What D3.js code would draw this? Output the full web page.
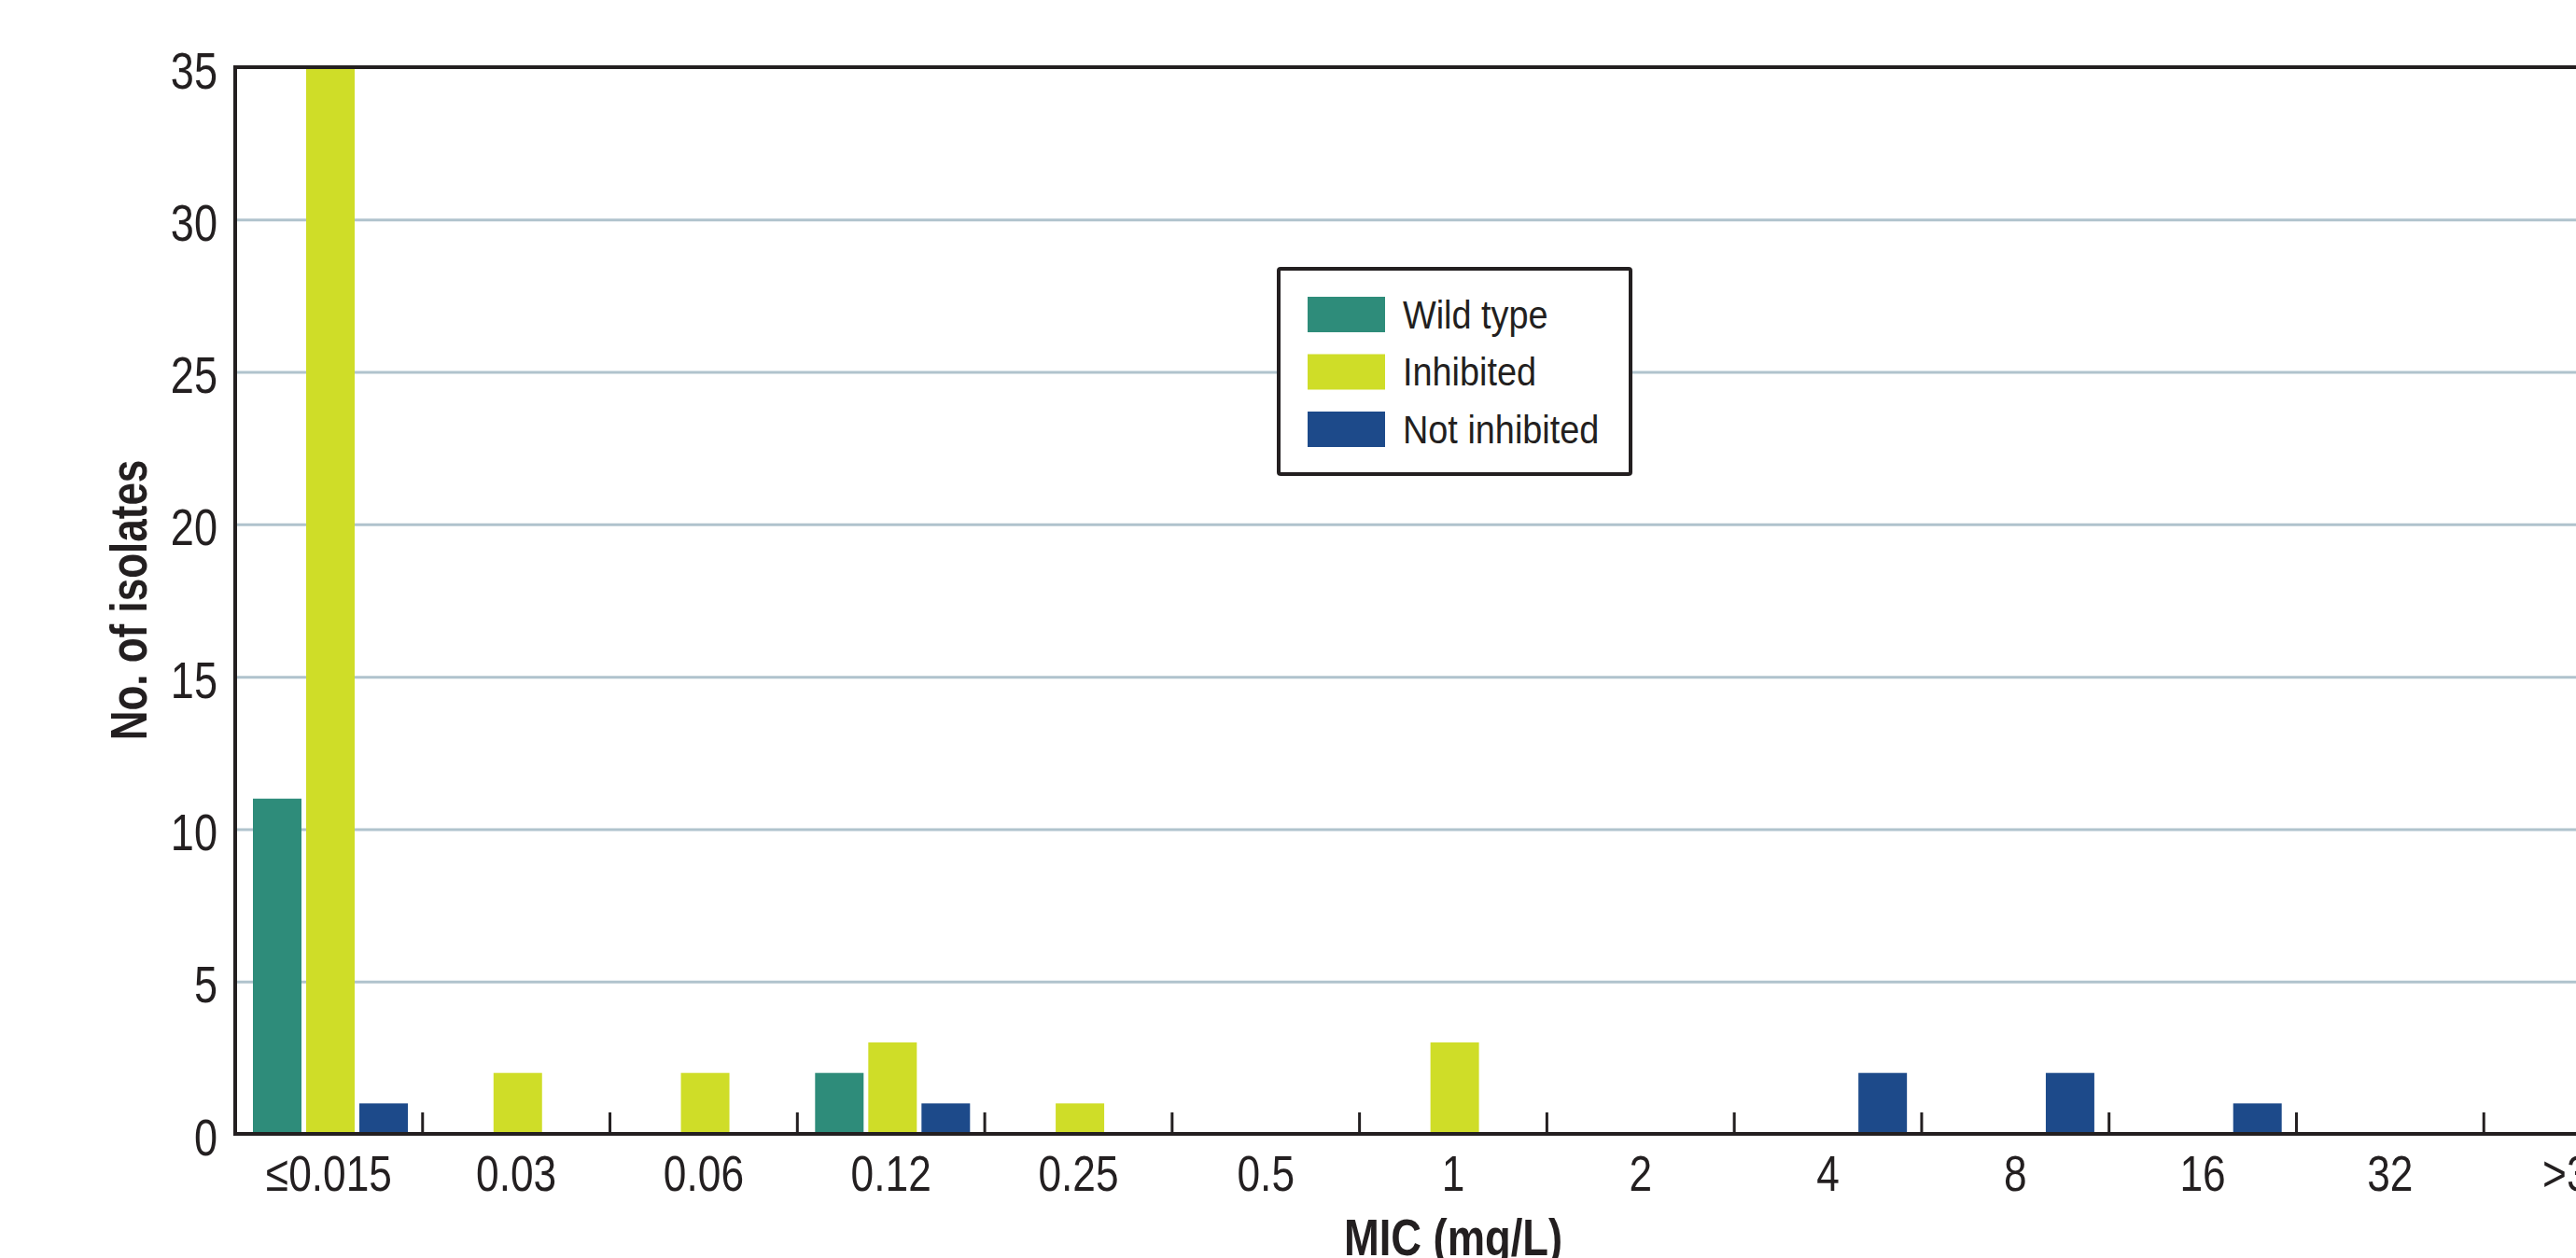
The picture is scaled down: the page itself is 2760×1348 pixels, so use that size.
<!DOCTYPE html>
<html>
<head>
<meta charset="utf-8">
<script src="https://cdn.jsdelivr.net/npm/d3@7"></script>
<style>
	html, body { margin: 0; padding: 0; background: #fff; overflow: hidden; }
	text { font-family: "Liberation Sans", Arial, sans-serif; fill: #231f20; }
</style>
</head>
<body>
<div id="chart"></div>
<script>
const categories = ["≤0.015", "0.03", "0.06", "0.12", "0.25", "0.5", "1", "2", "4", "8", "16", "32", ">32"];
const seriesNames = ["Wild type", "Inhibited", "Not inhibited"];
const wildType     = [11, 0, 0, 2, 0, 0, 0, 0, 0, 0, 0, 0, 0];
const inhibited    = [35, 2, 2, 3, 1, 0, 3, 0, 0, 0, 0, 0, 0];
const notInhibited = [1, 0, 0, 1, 0, 0, 0, 0, 2, 2, 1, 0, 0];
const yTicks = [0, 5, 10, 15, 20, 25, 30, 35];
const colors = ["#2e8c7a", "#cfdd28", "#1d4a8a"];

const margin = {top: 72, right: 0, bottom: 133, left: 252},
	  fullWidth = 2760, fullHeight = 1348,
	  width = 2610,   // plot runs past the right edge of the picture
	  height = fullHeight - margin.top - margin.bottom;

// the original type is a condensed face, squeeze the regular one
const squeeze = 0.82;
function narrow(sel, k) {
	sel.each(function() {
		const t = d3.select(this);
		const x = +t.attr("x") || 0;
		t.attr("x", x / k).attr("transform", "scale(" + k + ",1)");
	});
}

const table = categories.map((c, i) => ({
	cat: c,
	values: [wildType[i], inhibited[i], notInhibited[i]]
}));

const svg = d3.select("#chart")
	.append("svg")
	.attr("width", fullWidth)
	.attr("height", fullHeight)
	.append("g")
	.attr("transform", "translate(" + margin.left + "," + margin.top + ")");

let x0 = d3.scaleBand()
	.domain(categories)
	.range([0, width]);
let x1 = d3.scaleBand()
	.domain(seriesNames)
	.range([19, 185])
	.paddingInner(0.088);
let y = d3.scaleLinear()
	.domain([0, 35])
	.range([height, 0]);

// gridlines
svg.append("g")
	.attr("class", "grid")
	.call(d3.axisLeft(y).tickValues(yTicks.filter(t => t > 0 && t < 35)).tickSize(-width).tickFormat(""))
	.call(g => g.select(".domain").remove())
	.call(g => g.selectAll("line").attr("stroke", "#b0c3cd").attr("stroke-width", 3));

// bars
let groups = svg.selectAll(".group")
	.data(table)
	.enter().append("g")
	.attr("class", "group")
	.attr("transform", d => "translate(" + x0(d.cat) + ",0)");

groups.selectAll("rect")
	.data(d => d.values.map((v, i) => ({name: seriesNames[i], value: v, i: i})).filter(e => e.value > 0))
	.enter().append("rect")
	.attr("x", d => x1(d.name))
	.attr("y", d => y(d.value))
	.attr("width", x1.bandwidth())
	.attr("height", d => y(0) - y(d.value))
	.attr("fill", d => colors[d.i]);

// y axis labels
svg.append("g")
	.attr("class", "y axis")
	.call(d3.axisLeft(y).tickValues(yTicks).tickSize(0).tickPadding(19))
	.call(g => g.select(".domain").remove())
	.call(g => g.selectAll("text").attr("font-size", 55).attr("dy", 22).attr("font-family", null).call(narrow, squeeze));

// x axis labels
svg.append("g")
	.attr("class", "x axis")
	.attr("transform", "translate(0," + height + ")")
	.call(d3.axisBottom(x0).tickSize(0).tickPadding(0))
	.call(g => g.select(".domain").remove())
	.call(g => g.selectAll("text").attr("font-size", 54).attr("dy", 61).attr("font-family", null).call(narrow, squeeze));

// separator ticks between categories
svg.append("g")
	.attr("transform", "translate(" + x0.bandwidth() / 2 + "," + height + ")")
	.call(d3.axisBottom(x0).tickSize(-23).tickFormat(""))
	.call(g => g.select(".domain").remove())
	.call(g => g.selectAll("line").attr("stroke", "#231f20").attr("stroke-width", 3));

// frame: left, bottom, top
svg.append("path")
	.attr("d", "M" + width + ",0H0V" + height + "H" + width)
	.attr("fill", "none")
	.attr("stroke", "#231f20")
	.attr("stroke-width", 4);

// axis titles
svg.append("text")
	.attr("transform", "translate(" + (157 - margin.left) + "," + (643 - margin.top) + ") rotate(-90) scale(0.8,1)")
	.attr("text-anchor", "middle")
	.attr("font-size", 55)
	.attr("font-weight", "bold")
	.text("No. of isolates");

svg.append("text")
	.attr("x", 1557 - margin.left)
	.attr("y", 1345 - margin.top)
	.attr("text-anchor", "middle")
	.attr("font-size", 56)
	.attr("font-weight", "bold")
	.call(narrow, 0.81)
	.text("MIC (mg/L)");

// legend
const legend = svg.append("g")
	.attr("transform", "translate(" + (1370 - margin.left) + "," + (288 - margin.top) + ")");
legend.append("rect")
	.attr("width", 377)
	.attr("height", 220)
	.attr("rx", 2)
	.attr("fill", "#fff")
	.attr("stroke", "#231f20")
	.attr("stroke-width", 4);
seriesNames.forEach((name, i) => {
	legend.append("rect")
		.attr("x", 31)
		.attr("y", 30 + i * 61.5)
		.attr("width", 83)
		.attr("height", 38)
		.attr("fill", colors[i]);
	legend.append("text")
		.attr("x", 133)
		.attr("y", 64 + i * 61.5)
		.attr("font-size", 43)
		.call(narrow, 0.88)
		.text(name);
});
</script>
</body>
</html>
